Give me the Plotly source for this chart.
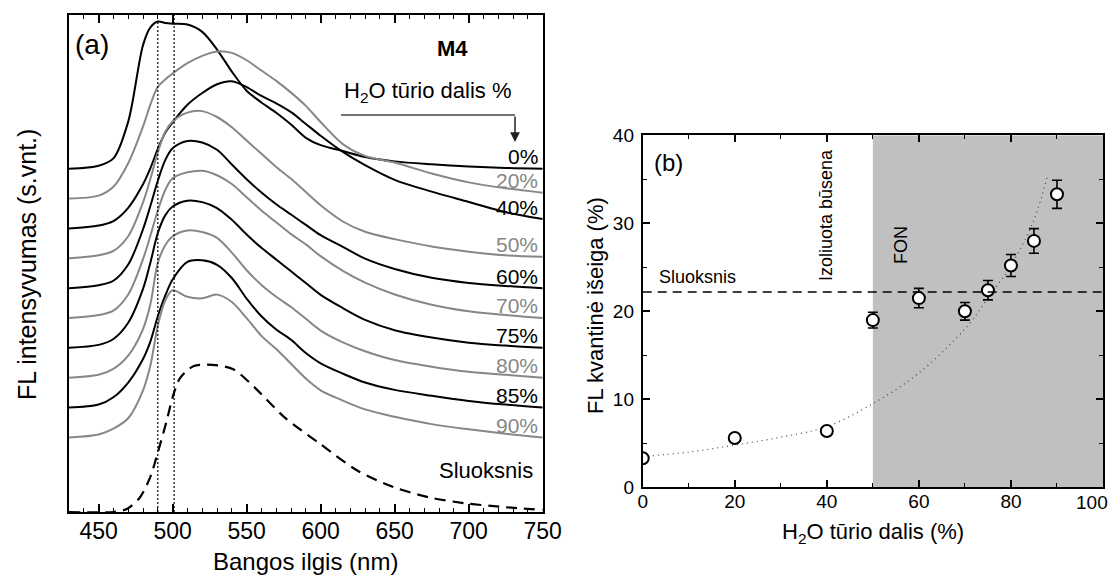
import plotly.graph_objects as go

W, H = 1112, 575
FONT = "Liberation Sans, Arial, sans-serif"
BLACK = "#000000"
GRAY = "#878787"

# ---------------- (a) normalised FL spectra -----------------
wavelength = [430, 450, 460, 470, 480, 485, 490, 495, 500, 510, 520, 530, 540,
              550, 560, 570, 580, 590, 600, 615, 630, 650, 675, 700, 725, 750]

fl_0 = [0, .02, .07, .32, .84, .96, 1.0, .99, .985, .98, .93, .81, .66,
        .53, .45, .38, .30, .21, .16, .12, .08, .05, .03, .015, .005, 0]
fl_20 = [0, .02, .08, .24, .49, .64, .76, .81, .85, .92, .97, 1.0, .99,
         .94, .87, .80, .72, .63, .52, .37, .29, .245, .17, .11, .07, .04]
fl_40 = [0, .02, .05, .14, .30, .41, .54, .65, .72, .84, .92, .98, 1.0,
         .96, .90, .85, .79, .71, .63, .52, .43, .33, .25, .18, .11, .064]
fl_50 = [0, .02, .05, .15, .38, .54, .72, .86, .93, .99, 1.0, .96, .89,
         .80, .71, .62, .54, .45, .36, .25, .18, .13, .08, .045, .02, .01]
fl_60 = [0, .02, .05, .16, .40, .56, .73, .87, .95, 1.0, .99, .94, .84,
         .74, .65, .57, .50, .43, .36, .28, .20, .13, .07, .035, .015, 0]
fl_70 = [0, .02, .05, .16, .40, .56, .73, .87, .95, .99, 1.0, .97, .91,
         .82, .73, .65, .57, .50, .42, .32, .24, .16, .09, .045, .02, 0]
fl_75 = [0, .02, .06, .17, .40, .58, .78, .90, .96, 1.0, .99, .95, .87,
         .77, .68, .60, .52, .44, .36, .27, .19, .12, .07, .035, .015, 0]
fl_80 = [0, .02, .06, .15, .33, .50, .78, .90, .96, 1.0, .99, .95, .85,
         .73, .63, .55, .48, .40, .32, .24, .18, .12, .075, .04, .02, 0]
fl_85 = [0, .02, .07, .17, .33, .45, .62, .76, .87, .99, 1.0, .97, .88,
         .74, .62, .53, .46, .37, .30, .23, .17, .12, .08, .045, .02, 0]
fl_90 = [0, .02, .06, .13, .32, .49, .76, .93, 1.0, .955, .945, .97, .92,
         .81, .69, .60, .50, .40, .32, .25, .19, .14, .09, .055, .025, 0]

film_wl = [430, 460, 469, 478, 485, 489, 496, 500, 505, 514, 527, 541, 555,
           576, 600, 625, 649, 673, 697, 721, 750]
film_fl = [0, 0, .02, .10, .24, .37, .62, .78, .91, .99, 1.0, .97, .85,
           .64, .46, .28, .17, .10, .06, .036, .014]

water_labels = ["0%", "20%", "40%", "50%", "60%", "70%", "75%", "80%", "85%", "90%"]
spectra = [fl_0, fl_20, fl_40, fl_50, fl_60, fl_70, fl_75, fl_80, fl_85, fl_90]
stack_offset = [11.5, 10.5, 9.5, 8.5, 7.5, 6.5, 5.5, 4.5, 3.5, 2.5]
peak_height = 4.93          # height of a normalised spectrum in stacked units

# ---------------- (b) quantum yield -----------------
h2o_frac = [0, 20, 40, 50, 60, 70, 75, 80, 85, 90]
qy = [3.3, 5.6, 6.4, 19.0, 21.5, 20.0, 22.4, 25.2, 28.0, 33.3]
qy_err = [0, 0, 0, 0.9, 1.1, 1.0, 1.1, 1.25, 1.4, 1.6]
film_qy = 22.2
trend_x = [0, 10, 20, 30, 40, 50, 60, 70, 75, 80, 85, 88]
trend_y = [3.5, 4.0, 4.8, 5.7, 6.9, 9.5, 13.0, 18.0, 21.5, 25.2, 30.4, 35.5]
x2_ticks = [0, 20, 40, 60, 80, 100]


def px_x(p):
    return p / W


def px_y(p):
    return 1 - p / H


fig = go.Figure()

for i, (lab, vals, off) in enumerate(zip(water_labels, spectra, stack_offset)):
    col = BLACK if i % 2 == 0 else GRAY
    fig.add_trace(go.Scatter(
        x=wavelength, y=[off + peak_height * v for v in vals],
        mode="lines", line=dict(color=col, width=2, shape="spline", smoothing=0.9),
        xaxis="x", yaxis="y", showlegend=False, hoverinfo="skip"))
    fig.add_annotation(
        x=750, y=off + peak_height * vals[-1], xref="x", yref="y",
        text=lab, showarrow=False, xanchor="right", yanchor="middle",
        xshift=-3, yshift=12, font=dict(family=FONT, size=21, color=col))

fig.add_trace(go.Scatter(
    x=film_wl, y=[peak_height * v for v in film_fl], mode="lines",
    line=dict(color=BLACK, width=2.2, dash="11px,7px", shape="spline", smoothing=0.8),
    xaxis="x", yaxis="y", showlegend=False, hoverinfo="skip"))

# shaded aggregation region and film level in (b)
fig.add_shape(type="rect", xref="x2", yref="y2", x0=50, x1=100, y0=0, y1=40,
              fillcolor="#c0c0c0", line=dict(width=0), layer="below")
fig.add_shape(type="line", xref="x2", yref="y2", x0=0, x1=100, y0=film_qy, y1=film_qy,
              line=dict(color=BLACK, width=1.6, dash="9px,6px"))

fig.add_trace(go.Scatter(
    x=trend_x, y=trend_y, mode="lines",
    line=dict(color="#444444", width=1.2, dash="1px,4px", shape="spline"),
    xaxis="x2", yaxis="y2", showlegend=False, hoverinfo="skip"))

fig.add_trace(go.Scatter(
    x=h2o_frac, y=qy, mode="markers",
    marker=dict(symbol="circle", size=12, color="white", line=dict(color=BLACK, width=2)),
    error_y=dict(type="data", array=qy_err, visible=True, color=BLACK, thickness=1.6, width=5),
    xaxis="x2", yaxis="y2", showlegend=False, hoverinfo="skip"))

# vertical markers at 490 and 501 nm
fig.add_shape(type="line", xref="x", yref="y", x0=490, x1=490, y0=0,
              y1=stack_offset[0] + peak_height * 1.0,
              line=dict(color=BLACK, width=1.2, dash="2px,2px"))
fig.add_shape(type="line", xref="x", yref="y", x0=501, x1=501, y0=0, y1=16.66,
              line=dict(color=BLACK, width=1.2, dash="2px,2px"))

# water-fraction arrow
fig.add_shape(type="line", xref="paper", yref="paper",
              x0=px_x(341), x1=px_x(515), y0=px_y(115), y1=px_y(115),
              line=dict(color="#444444", width=1.5))
fig.add_annotation(xref="paper", yref="paper", x=px_x(515), y=px_y(142),
                   ax=0, ay=-27, axref="pixel", ayref="pixel",
                   text="", showarrow=True, arrowhead=2, arrowsize=1.3,
                   arrowwidth=1.5, arrowcolor="#222222")

ann = [
    dict(x=px_x(92), y=px_y(45), text="(a)", size=28),
    dict(x=px_x(452), y=px_y(48), text="<b>M4</b>", size=22),
    dict(x=px_x(428), y=px_y(92), text="H<sub>2</sub>O tūrio dalis %", size=22),
    dict(x=px_x(486), y=px_y(470), text="Sluoksnis", size=22),
    dict(x=px_x(668), y=px_y(162), text="(b)", size=24),
    dict(x=px_x(697), y=px_y(277), text="Sluoksnis", size=18),
    dict(x=px_x(305), y=px_y(561), text="Bangos ilgis (nm)", size=24),
    dict(x=px_x(873), y=px_y(533), text="H<sub>2</sub>O tūrio dalis (%)", size=22),
]
for a in ann:
    fig.add_annotation(xref="paper", yref="paper", x=a["x"], y=a["y"], text=a["text"],
                       showarrow=False, xanchor="center", yanchor="middle",
                       font=dict(family=FONT, size=a["size"], color=BLACK))

# last tick label of (b) sits against the page edge, so it is right-aligned there
fig.add_annotation(xref="paper", yref="paper", x=px_x(1110), y=px_y(502),
                   text=str(x2_ticks[-1]), showarrow=False, xanchor="right",
                   yanchor="middle", font=dict(family=FONT, size=19, color=BLACK))

rot = [
    dict(x=px_x(27), y=px_y(265), text="FL intensyvumas (s.vnt.)", size=25),
    dict(x=px_x(595), y=px_y(306), text="FL kvantinė išeiga (%)", size=22),
    dict(x=px_x(826), y=px_y(215), text="Izoliuota būsena", size=18),
    dict(x=px_x(901), y=px_y(245), text="FON", size=18),
]
for a in rot:
    fig.add_annotation(xref="paper", yref="paper", x=a["x"], y=a["y"], text=a["text"],
                       showarrow=False, textangle=-90, xanchor="center", yanchor="middle",
                       font=dict(family=FONT, size=a["size"], color=BLACK))

axis_common = dict(showline=True, linecolor=BLACK, linewidth=1.8, mirror="allticks",
                   ticks="inside", tickcolor=BLACK, tickwidth=1.5, showgrid=False,
                   zeroline=False, automargin=False)

fig.update_layout(
    width=W, height=H, autosize=False,
    margin=dict(l=0, r=0, t=0, b=0, pad=0),
    paper_bgcolor="white", plot_bgcolor="white",
    showlegend=False,
    xaxis=dict(domain=[px_x(69), px_x(542.7)], range=[430, 750], anchor="y",
               tickvals=[450, 500, 550, 600, 650, 700, 750], ticklen=8,
               minor=dict(dtick=10, tick0=430, ticklen=4, ticks="inside",
                          tickcolor=BLACK, tickwidth=1.2),
               tickfont=dict(family=FONT, size=23, color=BLACK), ticklabelstandoff=-3,
               ticklabeloverflow="allow", **axis_common),
    yaxis=dict(domain=[px_y(512), px_y(14.7)], range=[0, 16.66], anchor="x",
               showticklabels=False, showline=True, linecolor=BLACK, linewidth=1.8,
               mirror=True, ticks="", showgrid=False, zeroline=False, automargin=False),
    xaxis2=dict(domain=[px_x(642.7), px_x(1103)], range=[0, 100], anchor="y2",
                tickvals=x2_ticks, ticktext=[str(t) for t in x2_ticks[:-1]] + [""],
                ticklen=7,
                minor=dict(dtick=10, tick0=0, ticklen=4, ticks="inside",
                           tickcolor=BLACK, tickwidth=1.2),
                tickfont=dict(family=FONT, size=19, color=BLACK), ticklabelstandoff=-4,
                **axis_common),
    yaxis2=dict(domain=[px_y(487.3), px_y(135.3)], range=[0, 40], anchor="x2",
                tickvals=[0, 10, 20, 30, 40], ticklen=7,
                minor=dict(dtick=5, tick0=0, ticklen=4, ticks="inside",
                           tickcolor=BLACK, tickwidth=1.2),
                tickfont=dict(family=FONT, size=19, color=BLACK), ticklabelstandoff=3,
                **axis_common),
)

fig.write_html("out.html")
